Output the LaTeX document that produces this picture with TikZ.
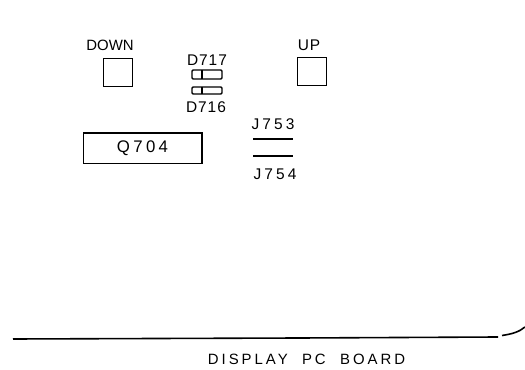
\documentclass[tikz,border=0pt]{standalone}
\usepackage{fontspec}
\setmainfont{Liberation Sans}
\newfontfamily\spacedfont[LetterSpace=20]{Liberation Sans}
\newfontfamily\tightfont[LetterSpace=6]{Liberation Sans}
\usepackage{tikz}
\tikzset{
	button/.style={draw, line width=1pt, minimum width=22pt, minimum height=21pt, inner sep=0pt},
	ledpart/.style={draw, line width=1pt, rounded corners=0.8pt},
	jumper/.style={line width=1.7pt},
	partlabel/.style={font=\fontsize{11.6}{13}\tightfont, inner sep=0pt},
	wirelabel/.style={font=\fontsize{11.6}{13}\spacedfont, inner sep=0pt},
}
\begin{document}
\begin{tikzpicture}[x=0.75pt,y=-0.75pt]
		\useasboundingbox (0,0) rectangle (525,370);
		\node[inner sep=0pt, font=\fontsize{11.2}{13}\selectfont] (downlabel) at (110,45) {DOWN};
		\node[button] (downbutton) at (118,72.5) {};
		\node[partlabel] (uplabel) at (309,45) {UP};
		\node[button] (upbutton) at (312,71.5) {};
		\node[partlabel] (dseventeen) at (207,60) {D717};
		\draw[ledpart] (192,70) rectangle (222,79);
		\draw[line width=1pt] (202,70) -- (202,79);
		\draw[ledpart] (192,87) rectangle (222,94);
		\draw[line width=1pt] (202,87) -- (202,94);
		\node[partlabel] (dsixteen) at (206,107) {D716};
		\node[draw, line width=1pt, minimum width=89pt, minimum height=23pt, inner sep=0pt, font=\fontsize{12.6}{13}\spacedfont] (qchip) at (142.5,148.5) {Q704};
		\node[wirelabel] (jfiftythree) at (273,124) {J753};
		\draw[jumper] (253,139) -- (293,139);
		\draw[jumper] (253,156) -- (293,156);
		\node[wirelabel] (jfiftyfour) at (275,174) {J754};
		\draw[line width=1.2pt] (13,339) -- (300,338) -- (498,337);
		\draw[line width=1.2pt] (502,335.5) .. controls (512,334) and (519,332) .. (525,327);
		\node[inner sep=0pt, font=\fontsize{11.2}{13}\spacedfont] (boardlabel) at (306.5,359) {DISPLAY~~PC~~BOARD};
		\end{tikzpicture}
\end{document}
